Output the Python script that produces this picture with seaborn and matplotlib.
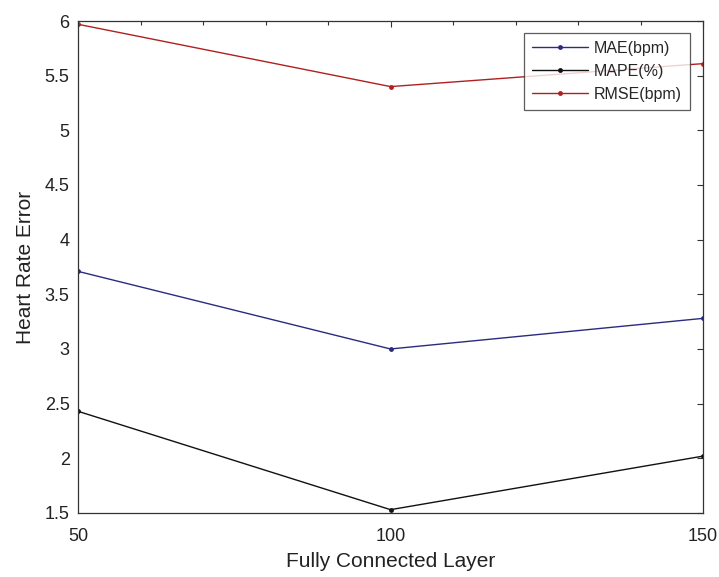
import matplotlib
matplotlib.use("Agg")
import matplotlib.pyplot as plt
import seaborn as sns
import pandas as pd
from matplotlib.ticker import MultipleLocator

# Heart-rate error versus size of the fully connected layer
layer_sizes = [50, 100, 150]
mae_bpm = [3.71, 3.00, 3.28]
mape_pct = [2.43, 1.53, 2.02]
rmse_bpm = [5.97, 5.40, 5.61]
series_names = ["MAE(bpm)", "MAPE(%)", "RMSE(bpm)"]
series_colors = ["#2b2b80", "#111111", "#b02020"]

df = pd.DataFrame({
    "layer": layer_sizes * 3,
    "error": mae_bpm + mape_pct + rmse_bpm,
    "metric": [series_names[0]] * 3 + [series_names[1]] * 3 + [series_names[2]] * 3,
})

sns.set_style("white")
plt.rcParams["font.family"] = ["Liberation Sans", "DejaVu Sans"]

fig = plt.figure(figsize=(7.19, 5.77), dpi=100)
ax = fig.add_axes([0.1085, 0.111, 0.8693, 0.8526])

sns.lineplot(data=df, x="layer", y="error", hue="metric", hue_order=series_names,
             palette=dict(zip(series_names, series_colors)), marker="o",
             markersize=3.5, markeredgewidth=0, linewidth=1.0, ax=ax)

ax.set_xlim(50, 150)
ax.set_ylim(1.5, 6)
ax.set_xticks([50, 100, 150])
ax.xaxis.set_minor_locator(MultipleLocator(10))
ax.yaxis.set_major_locator(MultipleLocator(0.5))
ax.set_yticklabels([f"{v:g}" for v in ax.get_yticks()])

ax.tick_params(which="both", direction="in", top=True, right=True,
               colors="#333333", labelcolor="#222222")
ax.tick_params(which="major", length=4, labelsize=13, width=0.8)
ax.tick_params(axis="y", which="major", pad=6)
ax.tick_params(axis="x", which="major", pad=11)
ax.tick_params(which="minor", length=3, width=0.8)
for s in ax.spines.values():
    s.set_color("#333333")
    s.set_linewidth(0.9)

ax.set_xlabel("Fully Connected Layer", fontsize=15, color="#222222", labelpad=5)
ax.set_ylabel("Heart Rate Error", fontsize=15, color="#222222", labelpad=7)

leg = ax.legend(loc="upper right", bbox_to_anchor=(0.979, 0.976), borderaxespad=0,
                fontsize=11.5, frameon=True, fancybox=False, edgecolor="#333333",
                handlelength=3.5, borderpad=0.5, labelspacing=0.5,
                handletextpad=0.4)
leg.get_frame().set_linewidth(0.9)

fig.savefig("out.png", dpi=100)
